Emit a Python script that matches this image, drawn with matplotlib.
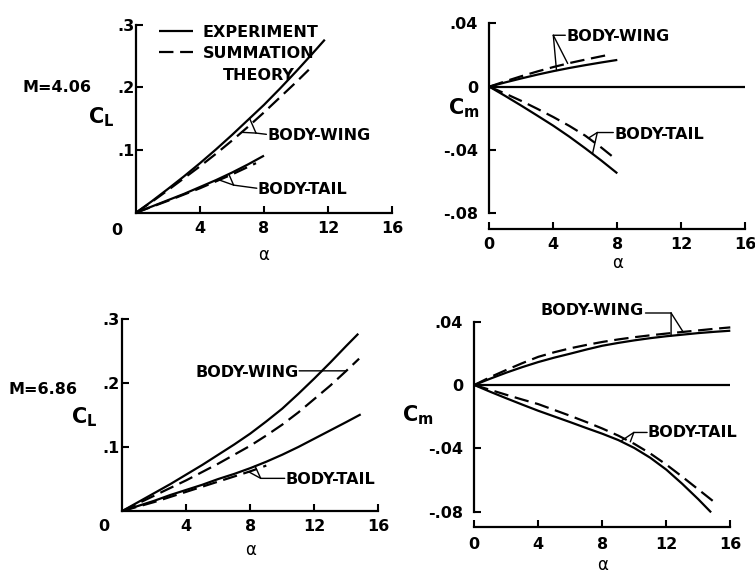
import numpy as np
import matplotlib
matplotlib.use('Agg')
import matplotlib.pyplot as plt

# ---- M = 4.06, lift ----
a_bw_exp_cl1 = [0, 1, 2, 3, 4, 5, 6, 7, 8, 9, 10, 11, 11.8]
cl_bw_exp_1 = [0, 0.0185, 0.038, 0.058, 0.079, 0.101, 0.124, 0.148, 0.172, 0.198, 0.225, 0.253, 0.276]
a_bw_th_cl1 = [0, 1, 2, 3, 4, 5, 6, 7, 8, 9, 10, 10.8]
cl_bw_th_1 = [0, 0.0175, 0.036, 0.055, 0.074, 0.094, 0.115, 0.137, 0.160, 0.184, 0.208, 0.228]
a_bt_exp_cl1 = [0, 1, 2, 3, 4, 5, 6, 7, 8]
cl_bt_exp_1 = [0, 0.010, 0.020, 0.030, 0.041, 0.052, 0.064, 0.077, 0.091]
a_bt_th_cl1 = [0, 1, 2, 3, 4, 5, 6, 7, 7.5]
cl_bt_th_1 = [0, 0.0095, 0.019, 0.029, 0.039, 0.050, 0.061, 0.073, 0.079]

# ---- M = 4.06, pitching moment ----
a_bw_exp_cm1 = [0, 1, 2, 3, 4, 5, 6, 7, 8]
cm_bw_exp_1 = [0, 0.0027, 0.0052, 0.0076, 0.0098, 0.0118, 0.0136, 0.0153, 0.0169]
a_bw_th_cm1 = [0, 1, 2, 3, 4, 5, 6, 7, 7.5]
cm_bw_th_1 = [0, 0.0034, 0.0066, 0.0096, 0.0124, 0.0149, 0.0171, 0.0192, 0.0202]
a_bt_exp_cm1 = [0, 1, 2, 3, 4, 5, 6, 7, 8]
cm_bt_exp_1 = [0, -0.0059, -0.0120, -0.0183, -0.0247, -0.0316, -0.0390, -0.0467, -0.0548]
a_bt_th_cm1 = [0, 1, 2, 3, 4, 5, 6, 7, 7.8]
cm_bt_th_1 = [0, -0.0044, -0.0090, -0.0140, -0.0192, -0.0248, -0.0310, -0.0385, -0.0450]
a_ref_1 = [0, 16]
cm_ref_1 = [0, 0]

# ---- M = 6.86, lift ----
a_bw_exp_cl2 = [0, 1, 2, 3, 4, 5, 6, 7, 8, 9, 10, 11, 12, 13, 14, 14.75]
cl_bw_exp_2 = [0, 0.014, 0.028, 0.042, 0.057, 0.072, 0.088, 0.104, 0.121, 0.140,
               0.160, 0.183, 0.207, 0.232, 0.258, 0.277]
a_bw_th_cl2 = [0, 1, 2, 3, 4, 5, 6, 7, 8, 9, 10, 11, 12, 13, 14, 14.8]
cl_bw_th_2 = [0, 0.012, 0.024, 0.036, 0.048, 0.061, 0.074, 0.088, 0.102, 0.118,
              0.135, 0.154, 0.175, 0.196, 0.219, 0.238]
a_bt_exp_cl2 = [0, 1, 2, 3, 4, 5, 6, 7, 8, 9, 10, 11, 12, 13, 14, 14.9]
cl_bt_exp_2 = [0, 0.008, 0.016, 0.025, 0.033, 0.041, 0.050, 0.058, 0.067, 0.077,
               0.088, 0.100, 0.113, 0.126, 0.139, 0.151]
a_bt_th_cl2 = [0, 1, 2, 3, 4, 5, 6, 7, 8, 9]
cl_bt_th_2 = [0, 0.007, 0.014, 0.022, 0.030, 0.038, 0.046, 0.054, 0.062, 0.071]

# ---- M = 6.86, pitching moment ----
a_bw_cm2 = [0, 1, 2, 3, 4, 5, 6, 7, 8, 9, 10, 11, 12, 13, 14, 15, 16]
cm_bw_exp_2 = [0, 0.0040, 0.0078, 0.0113, 0.0145, 0.0173, 0.0198, 0.0224, 0.0248,
               0.0266, 0.0282, 0.0296, 0.0308, 0.0318, 0.0328, 0.0336, 0.0343]
cm_bw_th_2 = [0, 0.0050, 0.0095, 0.0138, 0.0178, 0.0207, 0.0232, 0.0253, 0.0272,
              0.0288, 0.0302, 0.0314, 0.0325, 0.0335, 0.0345, 0.0355, 0.0364]
a_bt_exp_cm2 = [0, 1, 2, 3, 4, 5, 6, 7, 8, 9, 10, 11, 12, 13, 14, 14.8]
cm_bt_exp_2 = [0, -0.0043, -0.0084, -0.0124, -0.0163, -0.0199, -0.0235, -0.0272,
               -0.0308, -0.0348, -0.0398, -0.0460, -0.0535, -0.0625, -0.0722, -0.0805]
a_bt_th_cm2 = [0, 1, 2, 3, 4, 5, 6, 7, 8, 9, 10, 11, 12, 13, 14, 15]
cm_bt_th_2 = [0, -0.0031, -0.0062, -0.0092, -0.0121, -0.0158, -0.0195, -0.0234,
              -0.0275, -0.0320, -0.0372, -0.0433, -0.0503, -0.0580, -0.0660, -0.0740]
a_ref_2 = [0, 16]
cm_ref_2 = [0, 0]

alpha_ticks = [0, 4, 8, 12, 16]
alpha_labels = ['0', '4', '8', '12', '16']

plt.rcParams['font.family'] = 'DejaVu Sans'
plt.rcParams['font.weight'] = 'bold'
plt.rcParams['font.size'] = 11.5
plt.rcParams['mathtext.fontset'] = 'dejavusans'

W, H = 755, 578
fig = plt.figure(figsize=(W / 100, H / 100), dpi=100)

LW = 1.6
DASH = (6.5, 3)


def px(x, y):
    return x / W, 1 - y / H


def new_axes(left, top, right, bottom):
    ax = fig.add_axes([left / W, 1 - bottom / H, (right - left) / W, (bottom - top) / H])
    ax.spines['top'].set_visible(False)
    ax.spines['right'].set_visible(False)
    for s in ('left', 'bottom'):
        ax.spines[s].set_linewidth(1.6)
    ax.tick_params(direction='in', length=5, width=1.5, labelsize=11.5)
    ax.set_xlim(0, 16)
    ax.patch.set_alpha(0)
    return ax


def curve(ax, a, v, dashed=False):
    ln, = ax.plot(a, v, color='black', lw=LW, clip_on=False,
                  solid_capstyle='butt')
    if dashed:
        ln.set_dashes(DASH)
    return ln


def leader(ax, start, junction, targets):
    style = dict(arrowstyle='-', lw=1.0, color='black', shrinkA=0, shrinkB=0)
    ax.annotate('', xy=junction, xytext=start, arrowprops=style,
                annotation_clip=False)
    for t in targets:
        ax.annotate('', xy=t, xytext=junction, arrowprops=style,
                    annotation_clip=False)


def on(a, v, x):
    return (x, float(np.interp(x, a, v)))


def coeff_label(x, y, sub):
    fig.text(*px(x, y), r'$\mathbf{C}_\mathbf{%s}$' % sub, fontsize=15,
             ha='center', va='center')


# ================= top left: CL, M = 4.06 =================
ax1 = new_axes(136, 24.6, 392, 212.7)
ax1.set_ylim(0, 0.3)
ax1.set_xticks(alpha_ticks[1:], alpha_labels[1:])
ax1.set_yticks([0.1, 0.2, 0.3], ['.1', '.2', '.3'])
ax1.tick_params(axis='x', pad=6)
ax1.tick_params(axis='y', pad=1)
ax1.set_xlabel('α', fontsize=12, labelpad=7)
ax1.annotate('0', xy=(0, 0), xytext=(-14, -13), textcoords='offset points',
             ha='center', va='center', fontsize=11.5)

exp1 = curve(ax1, a_bw_exp_cl1, cl_bw_exp_1)
th1 = curve(ax1, a_bw_th_cl1, cl_bw_th_1, dashed=True)
curve(ax1, a_bt_exp_cl1, cl_bt_exp_1)
curve(ax1, a_bt_th_cl1, cl_bt_th_1, dashed=True)

leg = ax1.legend([exp1, th1], ['EXPERIMENT', 'SUMMATION'], frameon=False,
                 loc='upper left', bbox_to_anchor=(0.06, 1.04),
                 handlelength=2.1, handletextpad=0.6, labelspacing=0.35,
                 borderpad=0, fontsize=11.5)
fig.text(*px(259, 75), 'THEORY', ha='center', va='center', fontsize=11.5)

ax1.text(8.2, 0.123, 'BODY-WING', ha='left', va='center')
leader(ax1, (8.15, 0.125), (7.5, 0.127),
       [on(a_bw_exp_cl1, cl_bw_exp_1, 7.1), on(a_bw_th_cl1, cl_bw_th_1, 6.6)])
ax1.text(7.6, 0.037, 'BODY-TAIL', ha='left', va='center')
leader(ax1, (7.55, 0.039), (6.1, 0.044),
       [on(a_bt_exp_cl1, cl_bt_exp_1, 5.8), on(a_bt_th_cl1, cl_bt_th_1, 5.2)])

fig.text(*px(57, 88), 'M=4.06', ha='center', va='center', fontsize=11.5)
coeff_label(101, 117, 'L')

# ================= top right: Cm, M = 4.06 =================
ax2 = new_axes(489.3, 23.4, 745.3, 229)
ax2.set_ylim(-0.09, 0.04)
ax2.spines['left'].set_bounds(-0.08, 0.04)
ax2.set_xticks(alpha_ticks, alpha_labels)
ax2.set_yticks([-0.08, -0.04, 0, 0.04], ['-.08', '-.04', '0', '.04'])
ax2.tick_params(axis='x', pad=6)
ax2.tick_params(axis='y', pad=8)
ax2.set_xlabel('α', fontsize=12, labelpad=1)

curve(ax2, a_ref_1, cm_ref_1)
curve(ax2, a_bw_exp_cm1, cm_bw_exp_1)
curve(ax2, a_bw_th_cm1, cm_bw_th_1, dashed=True)
curve(ax2, a_bt_exp_cm1, cm_bt_exp_1)
curve(ax2, a_bt_th_cm1, cm_bt_th_1, dashed=True)

ax2.text(4.8, 0.0318, 'BODY-WING', ha='left', va='center')
leader(ax2, (4.75, 0.0325), (4.0, 0.0325),
       [on(a_bw_exp_cm1, cm_bw_exp_1, 4.2), on(a_bw_th_cm1, cm_bw_th_1, 4.9)])
ax2.text(7.8, -0.0300, 'BODY-TAIL', ha='left', va='center')
leader(ax2, (7.75, -0.029), (6.75, -0.029),
       [on(a_bt_exp_cm1, cm_bt_exp_1, 6.45), on(a_bt_th_cm1, cm_bt_th_1, 6.2)])

coeff_label(464, 108, 'm')

# ================= bottom left: CL, M = 6.86 =================
ax3 = new_axes(122.3, 319, 378.3, 511)
ax3.set_ylim(0, 0.3)
ax3.set_xticks(alpha_ticks[1:], alpha_labels[1:])
ax3.set_yticks([0.1, 0.2, 0.3], ['.1', '.2', '.3'])
ax3.tick_params(axis='x', pad=6)
ax3.tick_params(axis='y', pad=2)
ax3.set_xlabel('α', fontsize=12, labelpad=5)
ax3.annotate('0', xy=(0, 0), xytext=(-13, -11), textcoords='offset points',
             ha='center', va='center', fontsize=11.5)

curve(ax3, a_bw_exp_cl2, cl_bw_exp_2)
curve(ax3, a_bw_th_cl2, cl_bw_th_2, dashed=True)
curve(ax3, a_bt_exp_cl2, cl_bt_exp_2)
curve(ax3, a_bt_th_cl2, cl_bt_th_2, dashed=True)

bw_end = on(a_bw_th_cl2, cl_bw_th_2, 14.0)
ax3.text(11.0, bw_end[1] - 0.003, 'BODY-WING', ha='right', va='center')
leader(ax3, (11.05, bw_end[1]), bw_end, [])
ax3.text(10.2, 0.049, 'BODY-TAIL', ha='left', va='center')
leader(ax3, (10.15, 0.051), (8.65, 0.051),
       [on(a_bt_exp_cl2, cl_bt_exp_2, 8.3), on(a_bt_th_cl2, cl_bt_th_2, 7.9)])

fig.text(*px(43, 390), 'M=6.86', ha='center', va='center', fontsize=11.5)
coeff_label(84, 417, 'L')

# ================= bottom right: Cm, M = 6.86 =================
ax4 = new_axes(474.3, 321.7, 730.3, 527.4)
ax4.set_ylim(-0.09, 0.04)
ax4.spines['left'].set_bounds(-0.08, 0.04)
ax4.set_xticks(alpha_ticks, alpha_labels)
ax4.set_yticks([-0.08, -0.04, 0, 0.04], ['-.08', '-.04', '0', '.04'])
ax4.tick_params(axis='x', pad=7)
ax4.tick_params(axis='y', pad=8)
ax4.set_xlabel('α', fontsize=12, labelpad=3)

curve(ax4, a_ref_2, cm_ref_2)
curve(ax4, a_bw_cm2, cm_bw_exp_2)
curve(ax4, a_bw_cm2, cm_bw_th_2, dashed=True)
curve(ax4, a_bt_exp_cm2, cm_bt_exp_2)
curve(ax4, a_bt_th_cm2, cm_bt_th_2, dashed=True)

ax4.text(10.6, 0.047, 'BODY-WING', ha='right', va='center')
leader(ax4, (10.7, 0.0455), (12.3, 0.0455),
       [on(a_bw_cm2, cm_bw_exp_2, 12.3), on(a_bw_cm2, cm_bw_th_2, 13.05)])
ax4.text(10.85, -0.0300, 'BODY-TAIL', ha='left', va='center')
leader(ax4, (10.8, -0.030), (9.97, -0.030),
       [on(a_bt_exp_cm2, cm_bt_exp_2, 9.15), on(a_bt_th_cm2, cm_bt_th_2, 9.75)])

coeff_label(418, 415, 'm')

fig.savefig('out.png', dpi=100)
